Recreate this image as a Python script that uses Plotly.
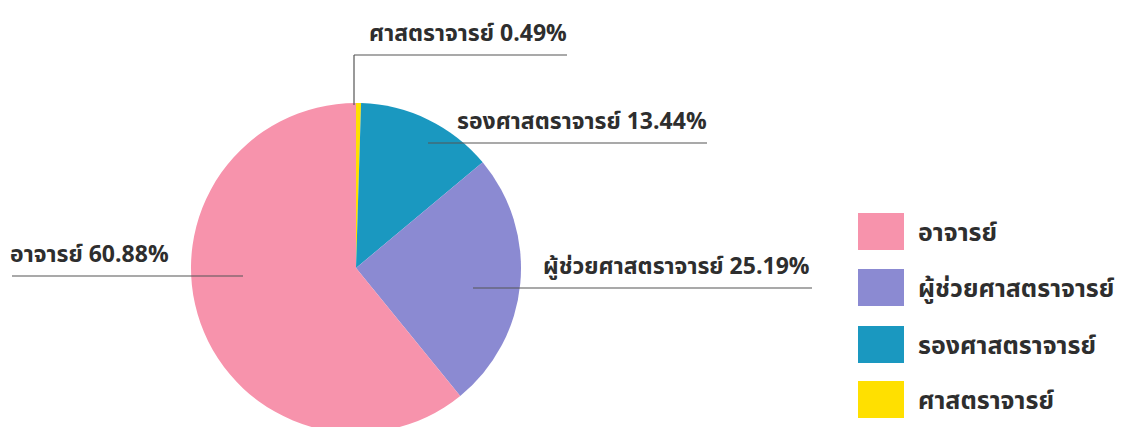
import plotly.graph_objects as go

# ---- data (clockwise from 12 o'clock) ----
categories = ["ศาสตราจารย์", "รองศาสตราจารย์", "ผู้ช่วยศาสตราจารย์", "อาจารย์"]
percent = [0.49, 13.44, 25.19, 60.88]
colors = ["#FFE000", "#1A98C0", "#8B8AD2", "#F793AC"]
legend_order = ["อาจารย์", "ผู้ช่วยศาสตราจารย์", "รองศาสตราจารย์", "ศาสตราจารย์"]

# ---- layout constants (pixels in the screenshot) ----
W, H = 1129, 427
OFF = 8            # page body margin
R = 165
CX, CY = 356, 268
FONT = "Noto Sans Thai, Noto Sans, Tahoma, sans-serif"
TXT = "#2e2e2e"
LINE = "#555555"


def px(x):
    return (x - OFF) / W


def py(y):
    return 1 - (y - OFF) / H


fig = go.Figure(
    go.Pie(
        labels=categories,
        values=percent,
        sort=False,
        direction="clockwise",
        rotation=0,
        marker=dict(colors=colors, line=dict(width=0)),
        textinfo="none",
        hoverinfo="label+percent",
        showlegend=False,
        domain=dict(x=[px(CX - R), px(CX + R)], y=[py(CY + R), py(CY - R)]),
    )
)

# label placement: (line_y, line_x0, line_x1, text_anchor, text_x)
label_pos = {
    "อาจารย์": (276, 12, 243, "left", 8),
    "ผู้ช่วยศาสตราจารย์": (288, 473, 812, "right", 812),
    "รองศาสตราจารย์": (143, 428, 707, "right", 709),
    "ศาสตราจารย์": (55, 354, 567, "right", 569),
}

shapes = []
annotations = []
for cat, val in zip(categories, percent):
    ly, x0, x1, anc, tx = label_pos[cat]
    shapes.append(dict(type="line", xref="paper", yref="paper",
                       x0=px(x0), x1=px(x1), y0=py(ly), y1=py(ly),
                       line=dict(color=LINE, width=1.2)))
    annotations.append(dict(text=f"{cat} {val:.2f}%", xref="paper", yref="paper",
                            x=px(tx), y=py(ly - 2), xanchor=anc, yanchor="bottom",
                            showarrow=False,
                            font=dict(family=FONT, size=23, color=TXT, weight="bold")))
# vertical leader for the tiny slice
shapes.append(dict(type="line", xref="paper", yref="paper",
                   x0=px(354), x1=px(354), y0=py(55), y1=py(CY - R + 2),
                   line=dict(color=LINE, width=1.2)))

# legend drawn as large swatches
leg_y = [232, 288, 345, 400]
col_of = dict(zip(categories, colors))
for cat, yc in zip(legend_order, leg_y):
    shapes.append(dict(type="rect", xref="paper", yref="paper",
                       x0=px(858), x1=px(904), y0=py(yc - 19), y1=py(yc + 18),
                       fillcolor=col_of[cat], line=dict(width=0)))
    annotations.append(dict(text=cat, xref="paper", yref="paper",
                            x=px(916), y=py(yc + 1), xanchor="left", yanchor="middle",
                            showarrow=False,
                            font=dict(family=FONT, size=25, color=TXT, weight="bold")))

fig.update_layout(
    width=W, height=H,
    margin=dict(l=0, r=0, t=0, b=0),
    paper_bgcolor="white", plot_bgcolor="white",
    shapes=shapes, annotations=annotations,
    showlegend=False,
)

fig.write_html("out.html")
